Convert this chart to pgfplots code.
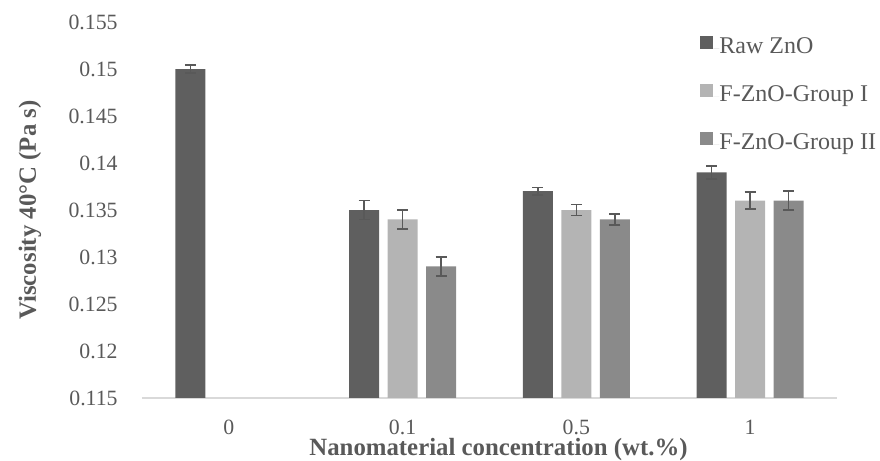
\documentclass[border=0pt]{standalone}
\usepackage{pgfplots}
\pgfplotsset{compat=1.18}
\usepackage{fontspec}
\setmainfont{Liberation Serif}
\definecolor{txt}{HTML}{595959}
\definecolor{raw}{HTML}{5F5F5F}
\definecolor{gone}{HTML}{B4B4B4}
\definecolor{gtwo}{HTML}{8A8A8A}
\begin{document}
\begin{tikzpicture}
\begin{axis}[
  scale only axis, width=347.5pt, height=188pt,
  xmin=-0.5, xmax=3.5, ymin=0.115, ymax=0.155,
  ybar=4.25pt, bar width=15pt,
  axis x line*=bottom, axis y line*=left,
  y axis line style={draw=none},
  x axis line style={draw=black!15, line width=0.75pt},
  major tick length=0pt,
  xtick={0,1,2,3}, xticklabels={0,0.1,0.5,1},
  ytick={0.115,0.12,0.125,0.13,0.135,0.14,0.145,0.15,0.155},
  yticklabels={0.115,0.12,0.125,0.13,0.135,0.14,0.145,0.15,0.155},
  tick label style={font=\fontsize{10.9}{13}\selectfont, text=txt},
  xticklabel style={anchor=base, yshift=-18.5pt},
  yticklabel style={anchor=east, inner sep=0pt, xshift=-12pt},
  xlabel={Nanomaterial concentration (wt.\%)},
  xlabel style={font=\bfseries\fontsize{12.4}{14}\selectfont, text=txt,
    at={([yshift=-29pt,xshift=4.5pt]axis description cs:0.5,0)}, anchor=base},
  ylabel={Viscosity 40°C (Pa s)},
  ylabel style={font=\bfseries\fontsize{12.4}{14}\selectfont, text=txt,
    at={([xshift=-53pt]axis description cs:0,0.5)}, anchor=base},
  legend cell align=left,
  legend style={draw=none, fill=none, at={(rel axis cs:0.803,0.963)}, anchor=north west,
    font=\fontsize{12}{14}\selectfont, text=txt, inner sep=0pt, row sep=12.75pt,
    nodes={inner sep=0pt, text height=8pt, text depth=2.5pt}},
  every axis plot/.append style={
    error bars/y dir=both, error bars/y explicit,
    error bars/error bar style={line width=0.75pt, color=txt},
    error bars/error mark options={rotate=90, mark size=2.75pt, line width=0.75pt, color=txt}},
]
\coordinate (bl) at (rel axis cs:0,0);
\addplot[fill=raw, draw=none,
  legend image code/.code={\fill[raw] (0pt,-0.5pt) rectangle (6.5pt,6pt); \path (6.5pt,0pt) -- (9.5pt,0pt);}]
  coordinates {(0,0.150) +- (0,0.0004) (1,0.135) +- (0,0.001) (2,0.137) +- (0,0.0004) (3,0.139) +- (0,0.0007)};
\addplot[fill=gone, draw=none,
  legend image code/.code={\fill[gone] (0pt,-0.5pt) rectangle (6.5pt,6pt); \path (6.5pt,0pt) -- (9.5pt,0pt);}]
  coordinates {(1,0.134) +- (0,0.001) (2,0.135) +- (0,0.0006) (3,0.136) +- (0,0.0009)};
\addplot[fill=gtwo, draw=none,
  legend image code/.code={\fill[gtwo] (0pt,-0.5pt) rectangle (6.5pt,6pt); \path (6.5pt,0pt) -- (9.5pt,0pt);}]
  coordinates {(1,0.129) +- (0,0.001) (2,0.134) +- (0,0.0006) (3,0.136) +- (0,0.001)};
\legend{Raw ZnO, F-ZnO-Group I, F-ZnO-Group II}
\end{axis}
\pgfresetboundingbox
\path (bl) ++(-71pt,-31.5pt) rectangle ++(440pt,230.5pt);
\end{tikzpicture}
\end{document}
